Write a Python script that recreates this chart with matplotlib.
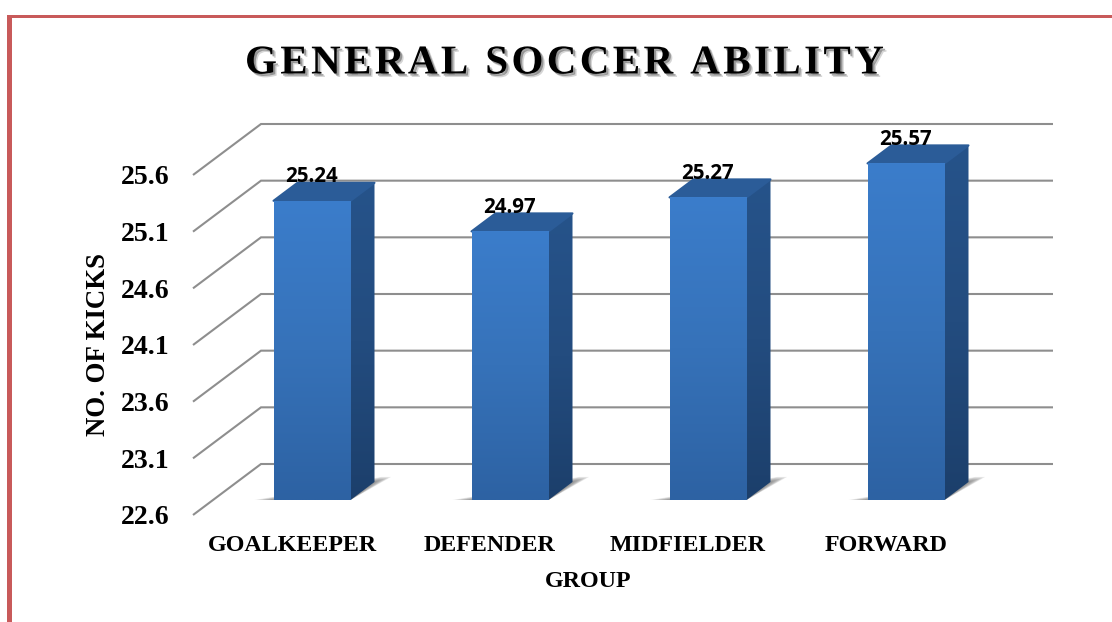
import numpy as np
import matplotlib
matplotlib.use("Agg")
import matplotlib.pyplot as plt
from matplotlib.patches import Polygon, Rectangle
from matplotlib.colors import LinearSegmentedColormap
import matplotlib.patheffects as pe

groups = ["GOALKEEPER", "DEFENDER", "MIDFIELDER", "FORWARD"]
scores = [25.24, 24.97, 25.27, 25.57]
y_ticks = [22.6, 23.1, 23.6, 24.1, 24.6, 25.1, 25.6]
title = "GENERAL SOCCER ABILITY"

W, H = 1112, 622
SERIF = "Liberation Serif"
fig = plt.figure(figsize=(W / 100, H / 100), dpi=100, facecolor="white")
ax = fig.add_axes([193 / W, (H - 515) / H, 792 / W, 340 / H])
ax.set_xlim(-0.5, 3.5)
ax.set_ylim(22.6, 25.6)
for s in ax.spines.values():
    s.set_visible(False)
ax.patch.set_visible(False)

# oblique floor depth, in data units
DX, DY = 68 / 198, 51 / (340 / 3)
def proj(x, v, t):
    return (x + t * DX, v + t * DY)

# gridlines
for v in y_ticks:
    pts = [proj(-0.5, v, 0), proj(-0.5, v, 1), proj(3.5, v, 1)]
    ax.plot(*zip(*pts), color="#8e8e8e", lw=1.5, clip_on=False, zorder=1,
            solid_joinstyle="miter", solid_capstyle="butt")

front_cmap = LinearSegmentedColormap.from_list("f", ["#3b7dcb", "#3672b9", "#2d62a3"])
side_cmap = LinearSegmentedColormap.from_list("s", ["#26538a", "#234c7f", "#1c3f6b"])
T0, T1 = 15 / 51, 33 / 51
BW = 77 / 198
base = y_ticks[0]
grad = np.linspace(0, 1, 256).reshape(-1, 1)

for i, v in enumerate(scores):
    x0, x1 = i - BW / 2, i + BW / 2
    # soft shadow on the floor
    for k in range(7):
        g = 1 - k / 7
        poly = [proj(x0 - 0.096 * g, base, T0), proj(x1, base, T0),
                proj(x1 + 0.05 * g, base, T1 + 0.1 * g), proj(x1, base, T1 + 0.1 * g),
                proj(x0, base, T0 + 0.08 * g)]
        ax.add_patch(Polygon(poly, closed=True, fc="#555555", ec="none", alpha=0.12,
                             clip_on=False, zorder=2))
    # side face
    side = Polygon([proj(x1, base, T0), proj(x1, base, T1), proj(x1, v, T1), proj(x1, v, T0)],
                   closed=True, fc="none", ec="none", clip_on=False, zorder=3)
    ax.add_patch(side)
    lo, hi = proj(x1, base, T0)[1], proj(x1, v, T1)[1]
    im = ax.imshow(grad, extent=(proj(x1, 0, T0)[0], proj(x1, 0, T1)[0], lo, hi), origin="upper",
                   cmap=side_cmap, aspect="auto", zorder=3)
    im.set_clip_path(side)
    im.set_clip_box(fig.bbox)
    # top face
    ax.add_patch(Polygon([proj(x0, v, T0), proj(x1, v, T0), proj(x1, v, T1), proj(x0, v, T1)],
                         closed=True, fc="#2b5c98", ec="#2b5c98", lw=1.5, joinstyle="round",
                         clip_on=False, zorder=3))
    # front face
    front = Polygon([proj(x0, base, T0), proj(x1, base, T0), proj(x1, v, T0), proj(x0, v, T0)],
                    closed=True, fc="none", ec="none", clip_on=False, zorder=4)
    ax.add_patch(front)
    im2 = ax.imshow(grad, extent=(proj(x0, 0, T0)[0], proj(x1, 0, T0)[0],
                                  proj(x0, base, T0)[1], proj(x0, v, T0)[1]),
                    origin="upper", cmap=front_cmap, aspect="auto", zorder=4)
    im2.set_clip_path(front)
    im2.set_clip_box(fig.bbox)
    # value label
    ax.annotate(f"{v:.2f}", xy=(i, v), xytext=(14.0, 28.0), textcoords="offset points",
                ha="center", va="center", fontsize=14.8, fontweight="bold", color="black",
                family="Open Sans", zorder=6, annotation_clip=False)

ax.set_xlim(-0.5, 3.5)
ax.set_ylim(22.6, 25.6)

ax.set_yticks(y_ticks)
ax.set_yticklabels([f"{t:.1f}" for t in y_ticks], family=SERIF, fontweight="bold", fontsize=20)
ax.set_xticks(range(len(groups)))
ax.set_xticklabels(groups, family=SERIF, fontweight="bold", fontsize=17.3)
ax.tick_params(axis="y", length=0, pad=17)
ax.tick_params(axis="x", length=0, pad=14.5)

ax.set_xlabel("GROUP", family=SERIF, fontweight="bold", fontsize=17.3, va="center")
ax.xaxis.set_label_coords(0.499, -0.196)
ax.set_ylabel("NO. OF KICKS", family=SERIF, fontweight="bold", fontsize=19.4, va="center")
ax.yaxis.set_label_coords(-0.119, 0.5)

spaced_title = "\u200a".join(title)
t = fig.text(564 / W, 1 - 64 / H, spaced_title, ha="center", va="center", family=SERIF,
             fontweight="bold", fontsize=29.5, color="black")
t.set_path_effects([
    pe.SimplePatchShadow(offset=(2.5, -2.5), shadow_rgbFace="#888888", alpha=0.35),
    pe.SimplePatchShadow(offset=(1.5, -1.5), shadow_rgbFace="#555555", alpha=0.5),
    pe.Normal(),
])

# page border
RED = "#c85a5a"
fig.add_artist(Rectangle((7 / W, 0), 5 / W, 1 - 15 / H, transform=fig.transFigure, fc=RED, ec="none"))
fig.add_artist(Rectangle((7 / W, 1 - 18 / H), 1 - 7 / W, 3 / H, transform=fig.transFigure, fc=RED, ec="none"))

fig.savefig("out.png", dpi=100, facecolor="white")
